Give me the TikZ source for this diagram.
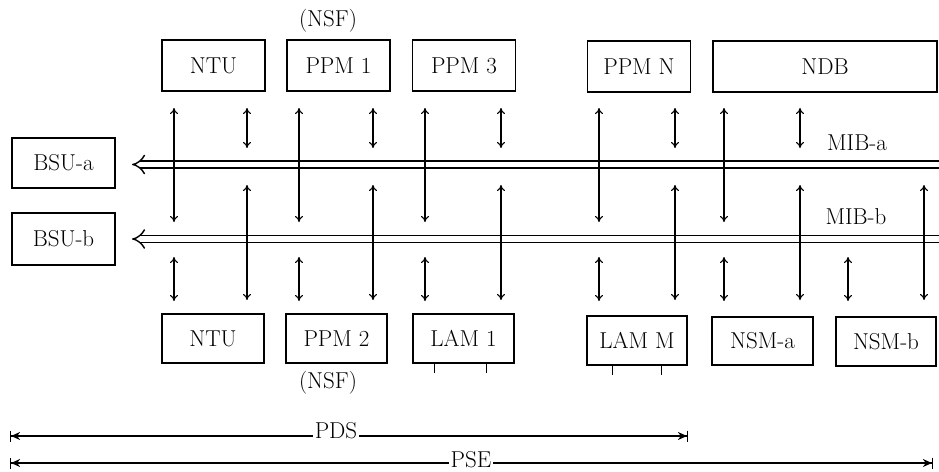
\documentclass[tikz,border=0pt]{standalone}
\usetikzlibrary{arrows.meta}
\begin{document}
\begin{tikzpicture}[x=1pt,y=-1pt,
  txt/.style={font=\fontsize{23}{26}\selectfont},
  box/.style={draw, line width=1.2pt, minimum width=103pt, minimum height=51pt, inner sep=0pt, txt},
  lbl/.style={inner sep=0pt, txt},
  bus/.style={double, double distance=5.5pt, line width=1.4pt},
  link/.style={line width=1.1pt, {To[length=6pt,width=8pt]}-{To[length=6pt,width=8pt]}},
  dimline/.style={line width=1.1pt, {Bar[width=11pt]Stealth[length=9pt,width=8pt]}-{Stealth[length=9pt,width=8pt]Bar[width=11pt]}},
  dimlbl/.style={fill=white, inner xsep=2pt, inner ysep=0pt, anchor=base, txt}]
\useasboundingbox (0,0) rectangle (939,471);

% top row
\node[box] (ntuT) at (213.5,65.5) {NTU};
\node[box] (ppm1) at (338.5,65.5) {PPM 1};
\node[box] (ppm3) at (464,65.5) {PPM 3};
\node[box] (ppmN) at (639,66.5) {PPM N};
\node[box, minimum width=224pt] (ndb) at (825,66.5) {NDB};
\node[lbl] (nsfT) at (328,21) {(NSF)};

% BSUs
\node[box, minimum height=50pt] (bsua) at (63.5,163) {BSU-a};
\node[box, minimum height=52pt] (bsub) at (63.5,239) {BSU-b};

% bottom row
\node[box, minimum width=102pt, minimum height=49pt] (ntuB) at (213,338.5) {NTU};
\node[box, minimum width=101pt, minimum height=49pt] (ppm2) at (336.5,338.5) {PPM 2};
\node[box, minimum width=101pt, minimum height=49pt] (lam1) at (463.5,338.5) {LAM 1};
\node[box, minimum width=100pt, minimum height=49pt] (lamM) at (637,340.5) {LAM M};
\node[box, minimum width=101pt, minimum height=48pt] (nsma) at (762.5,341) {NSM-a};
\node[box, minimum width=100pt, minimum height=49pt] (nsmb) at (886,341.5) {NSM-b};
\node[lbl] (nsfB) at (328,383) {(NSF)};

% ticks under LAM boxes
\draw[line width=1.1pt] (lam1.south west) ++(22,0) -- ++(0,9);
\draw[line width=1.1pt] (lam1.south west) ++(74,0) -- ++(0,9);
\draw[line width=1.1pt] (lamM.south west) ++(26,0) -- ++(0,9);
\draw[line width=1.1pt] (lamM.south west) ++(75,0) -- ++(0,9);

% buses
\coordinate (aL) at (132,164.5); \coordinate (aR) at (939,164.5);
\coordinate (bL) at (132,239);   \coordinate (bR) at (939,239);
\draw[bus, {Implies}-] (aL) -- (aR);
\draw[bus, {Implies}-] (bL) -- (bR);
\node[lbl] (miba) at (857,143) {MIB-a};
\node[lbl] (mibb) at (856,217) {MIB-b};

% vertical links
\foreach \x [count=\i] in {174,299,425,599,724} {
  \coordinate (ta\i) at (\x,108); \coordinate (tb\i) at (\x,222);
  \draw[link] (ta\i) -- (tb\i);
  \coordinate (ba\i) at (\x,257); \coordinate (bb\i) at (\x,301);
  \draw[link] (ba\i) -- (bb\i);
}
\foreach \x [count=\i] in {247,373,501,675,800} {
  \coordinate (sa\i) at (\x,108); \coordinate (sb\i) at (\x,148);
  \draw[link] (sa\i) -- (sb\i);
  \coordinate (la\i) at (\x,185); \coordinate (lb\i) at (\x,300);
  \draw[link] (la\i) -- (lb\i);
}
\coordinate (xa) at (848,257); \coordinate (xb) at (848,301);
\draw[link] (xa) -- (xb);
\coordinate (ya) at (924,185); \coordinate (yb) at (924,300);
\draw[link] (ya) -- (yb);

% dimension lines
\coordinate (pdsL) at (10,436); \coordinate (pdsR) at (688,436);
\draw[dimline] (pdsL) -- (pdsR);
\node[dimlbl] (pds) at (336,438) {PDS};
\coordinate (pseL) at (10,463); \coordinate (pseR) at (933,463);
\draw[dimline] (pseL) -- (pseR);
\node[dimlbl] (pse) at (471,467) {PSE};
\end{tikzpicture}
\end{document}
